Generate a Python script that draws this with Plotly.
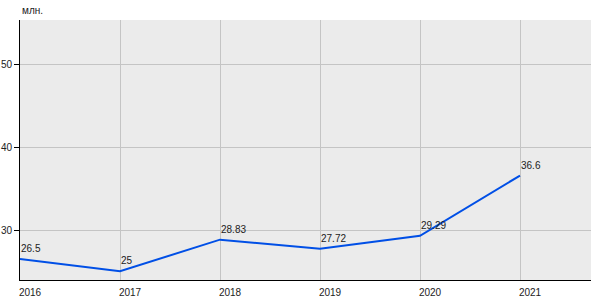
import plotly.graph_objects as go

years = [2016, 2017, 2018, 2019, 2020, 2021]
values = [26.5, 25, 28.83, 27.72, 29.29, 36.6]
labels = ["26.5", "25", "28.83", "27.72", "29.29", "36.6"]
y_ticks = [30, 40, 50]

fig = go.Figure(go.Scatter(
    x=years, y=values, mode="lines",
    line=dict(color="#004fe6", width=2),
    cliponaxis=False, hoverinfo="skip"))

ann = [dict(text="млн.", xref="paper", yref="paper", x=0, y=1,
            xanchor="left", yanchor="bottom", yshift=2, showarrow=False,
            font=dict(size=10, color="#222"))]
for x, y, t in zip(years, values, labels):
    ann.append(dict(x=x, y=y, text=t, xanchor="left", yanchor="bottom",
                    xshift=-1, yshift=3, showarrow=False,
                    font=dict(size=10, color="#222")))

fig.update_layout(
    width=600, height=300,
    margin=dict(l=20, r=9, t=20, b=20),
    paper_bgcolor="white", plot_bgcolor="#ebebeb",
    showlegend=False,
    font=dict(family="Liberation Sans, Arial", size=10, color="#222"),
    annotations=ann,
)
fig.update_xaxes(range=[2016, 2021.71], tickvals=years, ticktext=[str(y) for y in years],
                 showgrid=True, gridcolor="#c4c4c4", gridwidth=1,
                 showline=True, linecolor="black", linewidth=1, automargin=False,
                 ticks="", ticklabelshift=10, ticklabelstandoff=3, zeroline=False)
fig.update_yaxes(range=[23.94, 55.45], tickvals=y_ticks,
                 showgrid=True, gridcolor="#c4c4c4", gridwidth=1,
                 showline=True, linecolor="black", linewidth=1, automargin=False,
                 ticks="outside", ticklen=5, tickcolor="black", ticklabelstandoff=0,
                 zeroline=False)

fig.write_html("out.html")
